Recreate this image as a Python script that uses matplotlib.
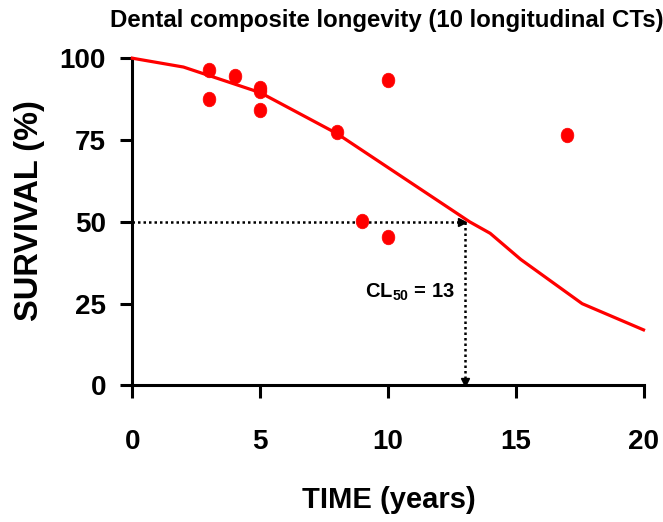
import matplotlib
matplotlib.use('Agg')
import matplotlib.pyplot as plt
from matplotlib.path import Path
from matplotlib.transforms import Affine2D

plt.rcParams['font.family'] = ['Liberation Sans', 'DejaVu Sans']
plt.rcParams['font.weight'] = 'bold'
plt.rcParams['mathtext.fontset'] = 'custom'
plt.rcParams['mathtext.rm'] = 'Liberation Sans:bold'
plt.rcParams['mathtext.it'] = 'Liberation Sans:bold'
plt.rcParams['mathtext.bf'] = 'Liberation Sans:bold'

# Survival reported by each longitudinal study
study_years = [3, 3, 4, 5, 5, 5, 8, 9, 10, 10, 17]
study_survival = [96.3, 87.4, 94.5, 90.8, 89.9, 84.3, 77.3, 50.4, 45.3, 93.3, 76.5]

# Fitted survival curve
curve_years = [0, 2, 5, 8, 13.2, 14, 15.2, 17.6, 20]
curve_survival = [100, 97.3, 89.5, 77, 50, 46.5, 38.5, 25, 17]

# Median longevity
cl50 = 13
x_ticks = [0, 5, 10, 15, 20]
y_ticks = [0, 25, 50, 75, 100]

fig = plt.figure(figsize=(6.63, 5.22), dpi=100)
ax = fig.add_axes([0.1996, 0.2615, 0.771, 0.627])

# slightly tall ellipse for the study points
ellipse = Path.unit_circle().transformed(Affine2D().scale(1.0, 1.15))

ax.plot(curve_years, curve_survival, color='#ff0000', lw=2.3, clip_on=False, zorder=3)
ax.plot(study_years, study_survival, ls='none', marker=ellipse, markersize=10.5,
        color='#ff0000', markeredgecolor='#ff0000', markeredgewidth=0.5,
        clip_on=False, zorder=4)

# dotted guide lines to CL50
ax.plot([0, cl50], [50, 50], color='black', ls=(0, (1, 1.2)), lw=1.8, zorder=2)
ax.plot([cl50, cl50], [50, 0], color='black', ls=(0, (1, 1.2)), lw=1.8, zorder=2)
ax.plot([cl50 - 0.12], [50], marker='>', markersize=6, color='black', zorder=2)
ax.plot([cl50], [1.2], marker='v', markersize=6, color='black', zorder=2, clip_on=False)

ax.text(12.62, 26.7, r'CL$_{\mathrm{50}}$ = 13', ha='right', va='baseline',
        fontsize=14.5, fontweight='bold')

ax.set_xlim(0, 20)
ax.set_ylim(0, 100)
ax.set_xticks(x_ticks)
ax.set_yticks(y_ticks)
ax.spines['top'].set_visible(False)
ax.spines['right'].set_visible(False)
for side in ['left', 'bottom']:
    ax.spines[side].set_linewidth(2.2)
ax.tick_params(axis='both', direction='out', length=9, width=2.2, labelsize=20)
ax.tick_params(axis='x', pad=22)
ax.tick_params(axis='y', pad=10)
for lab in ax.get_xticklabels() + ax.get_yticklabels():
    lab.set_fontweight('bold')

fig.text(110 / 663, 1 - 20 / 522, 'Dental composite longevity (10 longitudinal CTs)',
         ha='left', va='center', fontsize=17.3, fontweight='bold')
fig.text(30 / 663, 1 - 211 / 522, 'SURVIVAL (%)', rotation=90, ha='center',
         va='center', fontsize=23.5, fontweight='bold')
fig.text(389 / 663, 1 - 500 / 522, 'TIME (years)', ha='center', va='center',
         fontsize=21, fontweight='bold')

fig.savefig('out.png', dpi=100)
